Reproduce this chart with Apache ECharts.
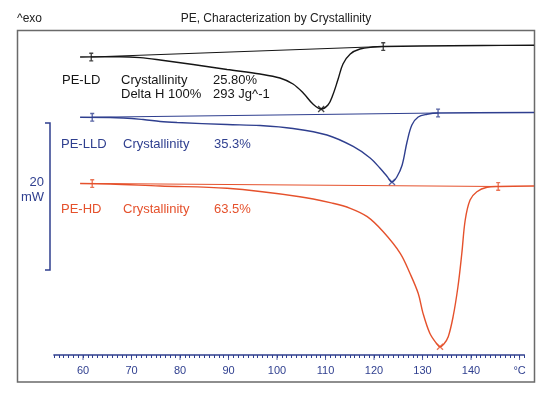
<!DOCTYPE html>
<html>
<head>
<meta charset="utf-8">
<script src="https://cdn.jsdelivr.net/npm/echarts@6/dist/echarts.min.js"></script>
<style>html,body{margin:0;padding:0;background:#fff}#c{width:540px;height:394px}</style>
</head>
<body>
<div id="c"></div>
<script>
// ---- Data (temperature in °C, heat flow in mW, arbitrary offsets per curve) ----
const ldTemp = [59.4,63.5,67.6,71.8,75.9,82.7,89.7,96.5,100.6,103.3,105.4,107.4,109.1,110.5,111.5,112.6,113.6,115.1,117.1,119.8,121.9,129.5,142.3,153.0];
const ldHF   = [40.54,40.57,40.59,40.46,40.14,39.52,38.84,38.23,37.69,36.87,35.65,34.15,33.47,34.01,35.37,37.55,39.59,40.95,41.63,41.90,41.97,42.04,42.11,42.14];
const ldBaseTemp = [61.7,121.9];
const ldBaseHF   = [40.54,41.97];

const lldTemp = [59.4,65.6,72.4,75.9,79.4,89.7,96.5,103.3,110.3,115.7,119.2,121.2,122.7,123.7,124.7,125.8,126.8,127.8,129.1,130.9,133.2,153.0];
const lldHF   = [32.34,32.31,32.04,31.77,31.63,31.36,31.22,30.82,29.93,28.37,26.80,25.44,24.29,23.54,24.22,25.85,28.98,31.29,32.38,32.75,32.93,32.99];
const lldBaseTemp = [61.9,133.2];
const lldBaseHF   = [32.34,32.93];

const hdTemp = [59.4,65.6,75.9,89.7,104.7,111.5,115.1,118.6,121.9,125.4,127.4,129.1,130.1,131.5,132.8,133.6,134.4,135.3,136.3,137.3,138.1,138.8,139.8,141.2,143.3,145.6,153.0];
const hdHF   = [23.33,23.27,22.99,22.68,21.54,20.64,19.96,18.82,16.77,13.84,11.12,8.39,5.67,2.95,1.63,1.12,1.50,2.49,5.21,9.29,13.84,18.37,21.09,22.22,22.82,22.93,22.99];
const hdBaseTemp = [61.9,145.6];
const hdBaseHF   = [23.33,22.93];

const xTickLabels = [60,70,80,90,100,110,120,130,140];
const xMajorTicks = [60,70,80,90,100,110,120,130,140,150];
const unitLabel = '°C';
const titleText = 'PE, Characterization by Crystallinity';
const exoText = '^exo';
const scaleText = ['20','mW'];
const ldText = ['PE-LD','Crystallinity','25.80%','Delta H 100%','293 Jg^-1'];
const lldText = ['PE-LLD','Crystallinity','35.3%'];
const hdText = ['PE-HD','Crystallinity','63.5%'];

// ---- Helpers ----
const pairs = (t, h) => t.map((v, i) => [v, h[i]]);
const minPt = (t, h) => { let k = 0; h.forEach((v, i) => { if (v < h[k]) k = i; }); return [t[k], h[k]]; };

const BLACK = '#151515', BLUE = '#2f3f8f', RED = '#e5512c';
const FONT = 'Liberation Sans, Arial, sans-serif';
const barSym = 'path://M0,0H6V1.5H4V8.5H6V10H0V8.5H2V1.5H0Z';
const xSym = 'path://M0,1.3L1.3,0L5,3.7L8.7,0L10,1.3L6.3,5L10,8.7L8.7,10L5,6.3L1.3,10L0,8.7L3.7,5Z';

function curve(t, h, color) {
  return { type: 'line', data: pairs(t, h), symbol: 'none', smooth: 0.35, clip: false,
    lineStyle: { color: color, width: 1.4 }, silent: true, z: 3 };
}
function base(t, h, color) {
  return { type: 'line', data: pairs(t, h), symbol: 'none', clip: false,
    lineStyle: { color: color, width: 1.1 }, silent: true, z: 2 };
}
function ends(t, h, color) {
  return { type: 'scatter', data: pairs(t, h), symbol: barSym, symbolSize: [4, 9],
    itemStyle: { color: color }, silent: true, z: 4 };
}
function peak(t, h, color) {
  return { type: 'scatter', data: [minPt(t, h)], symbol: xSym, symbolSize: [7, 7],
    itemStyle: { color: color }, silent: true, z: 4 };
}
function txt(x, y, s, color, size, align) {
  return { type: 'text', x: x, y: y, silent: true,
    style: { text: s, fill: color, font: (size || 13) + 'px ' + FONT, align: align || 'left', verticalAlign: 'middle' } };
}

const chart = echarts.init(document.getElementById('c'), null, { renderer: 'canvas' });
chart.setOption({
  animation: false,
  backgroundColor: '#fff',
  grid: [
    { left: 53.9, right: 5.9, top: 30, bottom: 39 },   // plotting area (curves reach the frame)
    { left: 53.9, right: 15.6, top: 30, bottom: 39 }   // temperature scale
  ],
  xAxis: [
    { type: 'value', gridIndex: 0, min: 54, max: 153, show: false },
    {
      type: 'value', gridIndex: 1, min: 54, max: 151, interval: 1,
      axisLine: { show: true, lineStyle: { color: BLUE, width: 1.5 } },
      axisTick: { show: true, interval: 0, length: 3, lineStyle: { color: BLUE, width: 1 } },
      axisLabel: {
        interval: 0, margin: 10, color: BLUE, fontSize: 11, fontFamily: FONT,
        formatter: v => (v === 150 ? unitLabel : (xTickLabels.indexOf(v) >= 0 ? String(v) : ''))
      },
      splitLine: { show: false }
    }
  ],
  yAxis: [
    { type: 'value', gridIndex: 0, min: 0, max: 44.22, show: false },
    { type: 'value', gridIndex: 1, min: 0, max: 44.22, show: false }
  ],
  series: [
    base(ldBaseTemp, ldBaseHF, BLACK), curve(ldTemp, ldHF, BLACK), ends(ldBaseTemp, ldBaseHF, BLACK), peak(ldTemp, ldHF, BLACK),
    base(lldBaseTemp, lldBaseHF, BLUE), curve(lldTemp, lldHF, BLUE), ends(lldBaseTemp, lldBaseHF, BLUE), peak(lldTemp, lldHF, BLUE),
    base(hdBaseTemp, hdBaseHF, RED), curve(hdTemp, hdHF, RED), ends(hdBaseTemp, hdBaseHF, RED), peak(hdTemp, hdHF, RED),
    { type: 'scatter', xAxisIndex: 1, yAxisIndex: 1, data: xMajorTicks.map(v => [v, 0]), clip: false,
      symbol: 'rect', symbolSize: [1, 5], symbolOffset: [0, 2.5], itemStyle: { color: BLUE }, silent: true, z: 5 }
  ],
  graphic: [
    { type: 'rect', shape: { x: 17.5, y: 30.5, width: 517, height: 351.5 }, silent: true,
      style: { fill: null, stroke: '#6a6a6a', lineWidth: 1.5 } },
    { type: 'polyline', shape: { points: [[45, 123], [50, 123], [50, 270], [45, 270]] }, silent: true,
      style: { fill: null, stroke: BLUE, lineWidth: 1.5 } },
    txt(276, 19, titleText, '#222', 12, 'center'),
    txt(17, 19, exoText, '#222', 12, 'left'),
    txt(44, 182, scaleText[0], BLUE, 13, 'right'),
    txt(44, 197, scaleText[1], BLUE, 13, 'right'),
    txt(62, 80, ldText[0], BLACK), txt(121, 80, ldText[1], BLACK), txt(213, 80, ldText[2], BLACK),
    txt(121, 94, ldText[3], BLACK), txt(213, 94, ldText[4], BLACK),
    txt(61, 144, lldText[0], BLUE), txt(123, 144, lldText[1], BLUE), txt(214, 144, lldText[2], BLUE),
    txt(61, 209, hdText[0], RED), txt(123, 209, hdText[1], RED), txt(214, 209, hdText[2], RED)
  ]
});
</script>
</body>
</html>
